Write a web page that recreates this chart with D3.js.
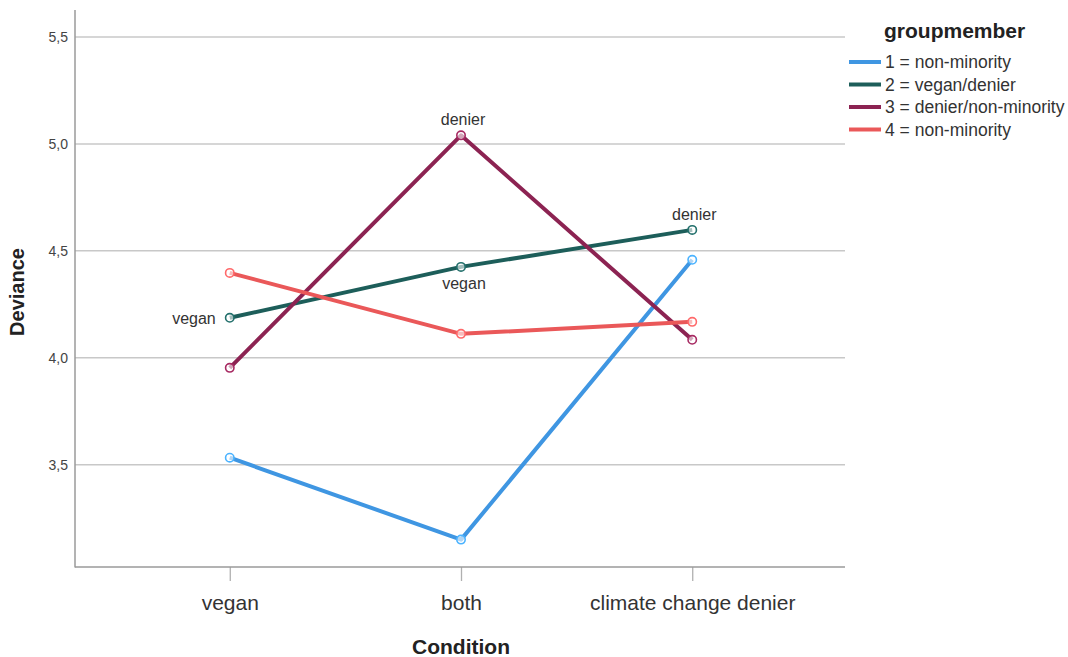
<!DOCTYPE html>
<html>
<head>
<meta charset="utf-8">
<script src="https://cdn.jsdelivr.net/npm/d3@7"></script>
<style>
  html, body { margin: 0; padding: 0; background: #fff; }
  svg { display: block; font-family: "Liberation Sans", Arial, sans-serif; }
</style>
</head>
<body>
<svg id="chart" width="1068" height="657"></svg>
<script>
const conditions = ["vegan", "both", "climate change denier"];
const groups = ["1 = non-minority", "2 = vegan/denier", "3 = denier/non-minority", "4 = non-minority"];
const colors = ["#3f96e2", "#1d5e5a", "#8c2352", "#ea5859"];
const nonMinority1 = [3.533, 3.150, 4.458];
const veganDenier = [4.187, 4.425, 4.598];
const denierNonMinority = [3.953, 5.040, 4.084];
const nonMinority4 = [4.397, 4.112, 4.168];
const seriesValues = [nonMinority1, veganDenier, denierNonMinority, nonMinority4];
const yTicks = [3.5, 4.0, 4.5, 5.0, 5.5];
const pointLabels = [
  { group: 1, condition: "vegan", text: "vegan", pos: "left" },
  { group: 1, condition: "both", text: "vegan", pos: "below" },
  { group: 2, condition: "both", text: "denier", pos: "above" },
  { group: 1, condition: "climate change denier", text: "denier", pos: "above" }
];

const svg = d3.select("#chart");
const x = d3.scalePoint().domain(conditions).range([76, 846]).padding(0.665);
const y = d3.scaleLinear().domain([3.022, 5.626]).range([567, 10]);
const pLeft = 75, pRight = 845, pBottom = 567, pTop = 10;

// gridlines
svg.append("g").selectAll("line").data(yTicks).join("line")
  .attr("x1", pLeft).attr("x2", pRight)
  .attr("y1", d => y(d)).attr("y2", d => y(d))
  .attr("stroke", "#c8c8c8").attr("stroke-width", 1.5);

// y axis
const fmt = d => d3.format(".1f")(d).replace(".", ",");
const yAxis = svg.append("g").attr("transform", `translate(${pLeft},0)`)
  .call(d3.axisLeft(y).tickValues(yTicks).tickFormat(fmt).tickSize(0).tickPadding(7));
yAxis.select(".domain").remove();
yAxis.selectAll("text").attr("font-size", 14).attr("fill", "#444")
  .attr("font-family", "'Liberation Sans', Arial, sans-serif");
svg.append("line").attr("x1", pLeft).attr("x2", pLeft).attr("y1", pTop).attr("y2", pBottom + 0.5)
  .attr("stroke", "#9a9a9a").attr("stroke-width", 1.5);

// x axis
const xAxis = svg.append("g").attr("transform", `translate(0,${pBottom})`)
  .call(d3.axisBottom(x).tickSize(14).tickPadding(14));
xAxis.select(".domain").remove();
xAxis.selectAll(".tick line").attr("stroke", "#b0b0b0").attr("stroke-width", 1.3);
xAxis.selectAll("text").attr("font-size", 21).attr("fill", "#333")
  .attr("font-family", "'Liberation Sans', Arial, sans-serif");
svg.append("line").attr("x1", pLeft).attr("x2", pRight).attr("y1", pBottom).attr("y2", pBottom)
  .attr("stroke", "#9a9a9a").attr("stroke-width", 1.5);

// axis titles
svg.append("text").attr("x", 461).attr("y", 654).attr("text-anchor", "middle")
  .attr("font-size", 21).attr("font-weight", "bold").attr("fill", "#222").text("Condition");
svg.append("text").attr("transform", "translate(24,292) rotate(-90)").attr("text-anchor", "middle")
  .attr("font-size", 20).attr("font-weight", "bold").attr("fill", "#222").text("Deviance");

// lines
const line = d3.line().x((d, i) => x(conditions[i])).y(d => y(d));
seriesValues.forEach((vals, gi) => {
  svg.append("path").datum(vals).attr("d", line)
    .attr("fill", "none").attr("stroke", colors[gi]).attr("stroke-width", 4)
    .attr("stroke-linejoin", "round");
});
seriesValues.forEach((vals, gi) => {
  svg.append("g").selectAll("circle").data(vals).join("circle")
    .attr("cx", (d, i) => x(conditions[i])).attr("cy", d => y(d)).attr("r", 4.2)
    .attr("fill", "#fff").attr("fill-opacity", 0.6)
    .attr("stroke", d3.color(colors[gi]).brighter(0.5)).attr("stroke-width", 1.6);
});

// point labels
pointLabels.forEach(l => {
  const cx = x(l.condition), cy = y(seriesValues[l.group][conditions.indexOf(l.condition)]);
  const t = svg.append("text").attr("font-size", 16).attr("fill", "#333").text(l.text);
  if (l.pos === "left") t.attr("x", cx - 14).attr("y", cy + 6).attr("text-anchor", "end");
  if (l.pos === "above") t.attr("x", cx + 2).attr("y", cy - 10).attr("text-anchor", "middle");
  if (l.pos === "below") t.attr("x", cx + 3).attr("y", cy + 22).attr("text-anchor", "middle");
});

// legend
svg.append("text").attr("x", 884).attr("y", 38).attr("font-size", 21).attr("font-weight", "bold")
  .attr("fill", "#222").text("groupmember");
groups.forEach((g, i) => {
  const yy = 62 + i * 22.5;
  svg.append("line").attr("x1", 849).attr("x2", 881).attr("y1", yy).attr("y2", yy)
    .attr("stroke", colors[i]).attr("stroke-width", 4);
  svg.append("text").attr("x", 885).attr("y", yy + 6).attr("font-size", 17.5).attr("fill", "#333").text(g);
});
</script>
</body>
</html>
